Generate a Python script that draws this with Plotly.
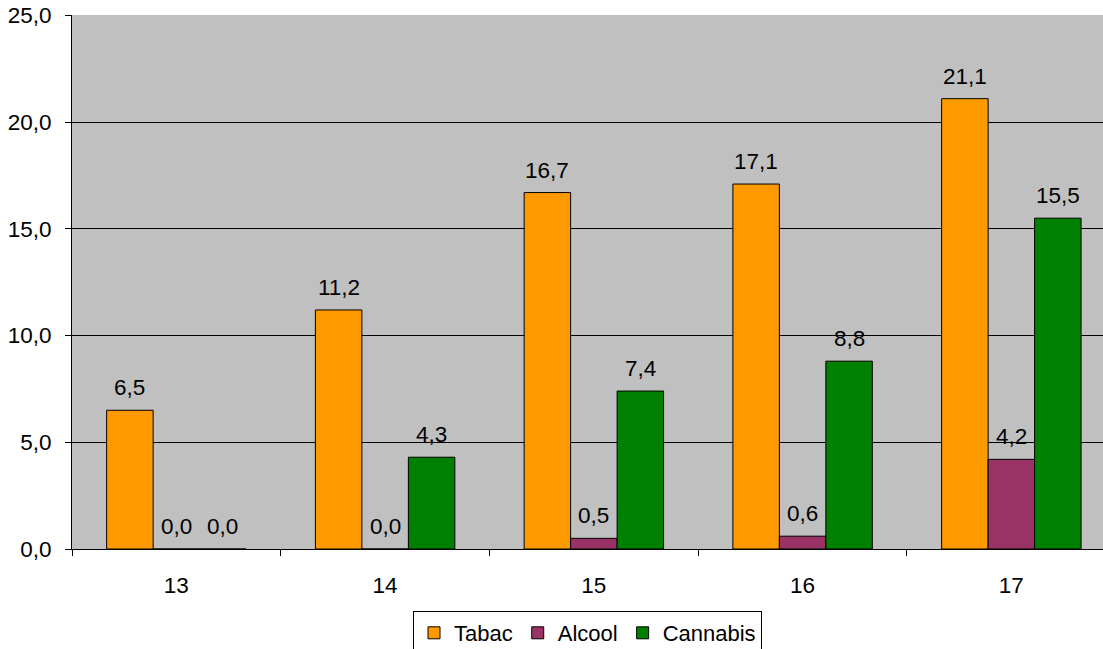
import plotly.graph_objects as go

categories = ["13", "14", "15", "16", "17"]
tabac = [6.5, 11.2, 16.7, 17.1, 21.1]
alcool = [0.0, 0.0, 0.5, 0.6, 4.2]
cannabis = [0.0, 4.3, 7.4, 8.8, 15.5]
series = [("Tabac", tabac, "#FF9900"), ("Alcool", alcool, "#993366"), ("Cannabis", cannabis, "#008000")]
yticks = [0, 5, 10, 15, 20, 25]

FONT = "Liberation Sans, Arial, sans-serif"
FS = 22.5
W, H = 1103, 649
fig = go.Figure()
for name, vals, col in series:
    fig.add_trace(go.Bar(x=categories, y=vals, name=name, marker=dict(color=col, line=dict(color="black", width=1))))

bar_px = 46.5
for i, (name, vals, col) in enumerate(series):
    for j, v in enumerate(vals):
        fig.add_annotation(x=j, y=v, xref="x", yref="y", text=f"{v:.1f}".replace(".", ","), showarrow=False,
                           xshift=(i - 1) * bar_px, yshift=8, yanchor="bottom",
                           font=dict(family=FONT, size=FS, color="black"))

fig.update_layout(
    width=W, height=H,
    margin=dict(l=72, r=0, t=15, b=100),
    plot_bgcolor="#C0C0C0", paper_bgcolor="white",
    barmode="group", bargap=0.332, bargroupgap=0,
    separators=",.",
    font=dict(family=FONT, size=FS, color="black"),
    legend=dict(orientation="h", x=0.5, xanchor="center", xref="paper",
                y=1 - 611 / H, yanchor="top", yref="container",
                bordercolor="black", borderwidth=1, font=dict(size=22),
                tracegroupgap=0, itemwidth=30),
    showlegend=True,
)
fig.update_xaxes(type="category", range=[-0.5, 4.439], showline=True, linecolor="black", linewidth=1,
                 ticks="outside", tickson="boundaries", ticklen=6, tickcolor="black",
                 showgrid=False, ticklabelstandoff=16, automargin=False)
fig.update_yaxes(range=[0, 25.02], tickvals=yticks, tickformat=".1f", showline=True, linecolor="black",
                 linewidth=1, ticks="outside", ticklen=6, tickcolor="black", showgrid=True,
                 gridcolor="black", gridwidth=1, zeroline=False, ticklabelstandoff=9, automargin=False,
                 ticklabeloverflow="allow")
fig.write_html("out.html", config={"displayModeBar": False},
               post_script="document.body.style.margin='0';document.body.style.overflow='hidden';")
